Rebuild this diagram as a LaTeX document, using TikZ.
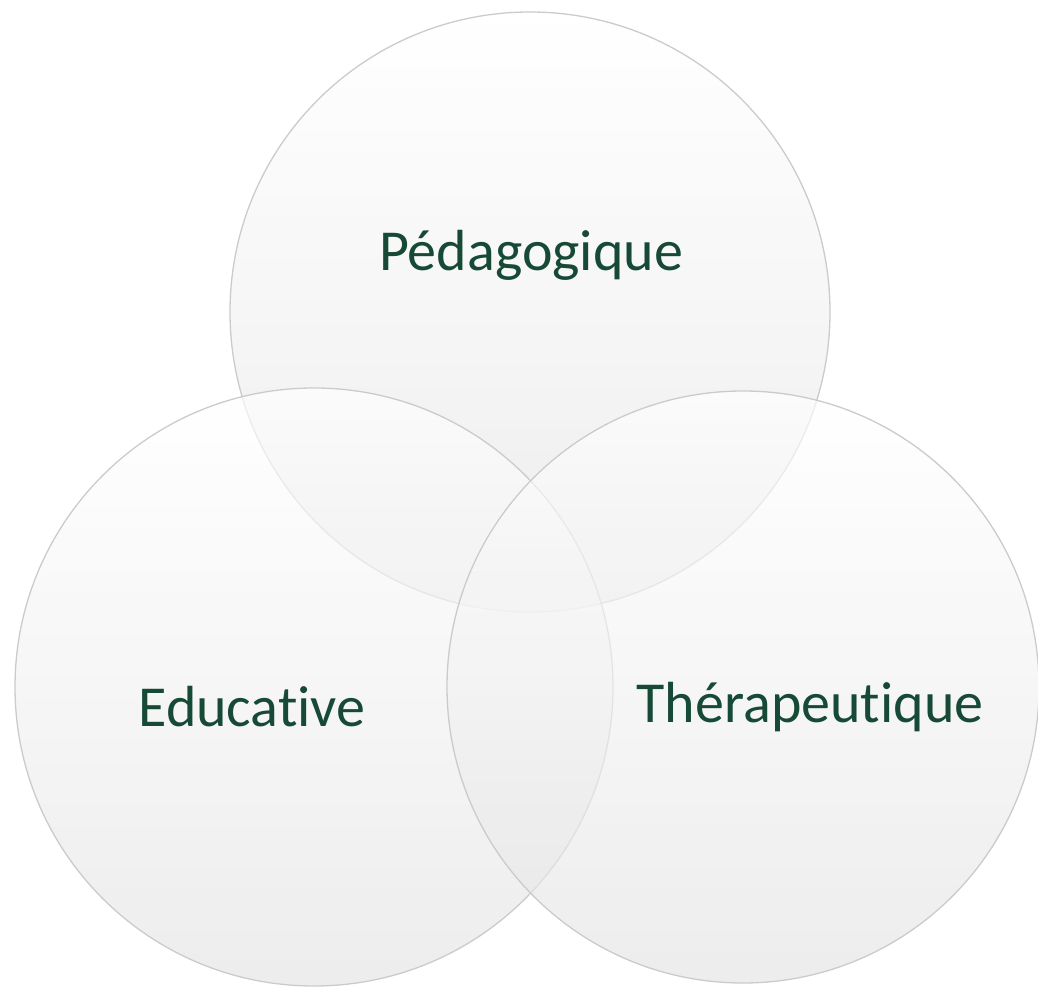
\documentclass[tikz,border=0pt]{standalone}
\usepackage{fontspec}
\setmainfont[Ligatures=NoCommon,RawFeature={-liga}]{Carlito}
\definecolor{txt}{HTML}{174A36}
\definecolor{edge}{HTML}{CBCBCB}
\tikzset{
  venn/.style={circle, draw=edge, line width=1.3pt, top color=white, bottom color=black!11, fill opacity=0.65, minimum size=#1, inner sep=0pt},
  lbl/.style={text=txt, font=\fontsize{58}{70}\selectfont, inner sep=0pt}
}
\begin{document}
\begin{tikzpicture}[x=1pt,y=1pt]
\useasboundingbox (0,0) rectangle (1038,986);
\node[venn=600pt] (top) at (530,674) {};
\node[venn=598pt] (left) at (314,299) {};
\node[venn=592pt] (right) at (743,299) {};
\node[lbl] (tp) at (531,731) {Pédagogique};
\node[lbl] (lp) at (252,279) {Educative};
\node[lbl] (rp) at (810,279) {Thérapeutique};
\end{tikzpicture}
\end{document}
